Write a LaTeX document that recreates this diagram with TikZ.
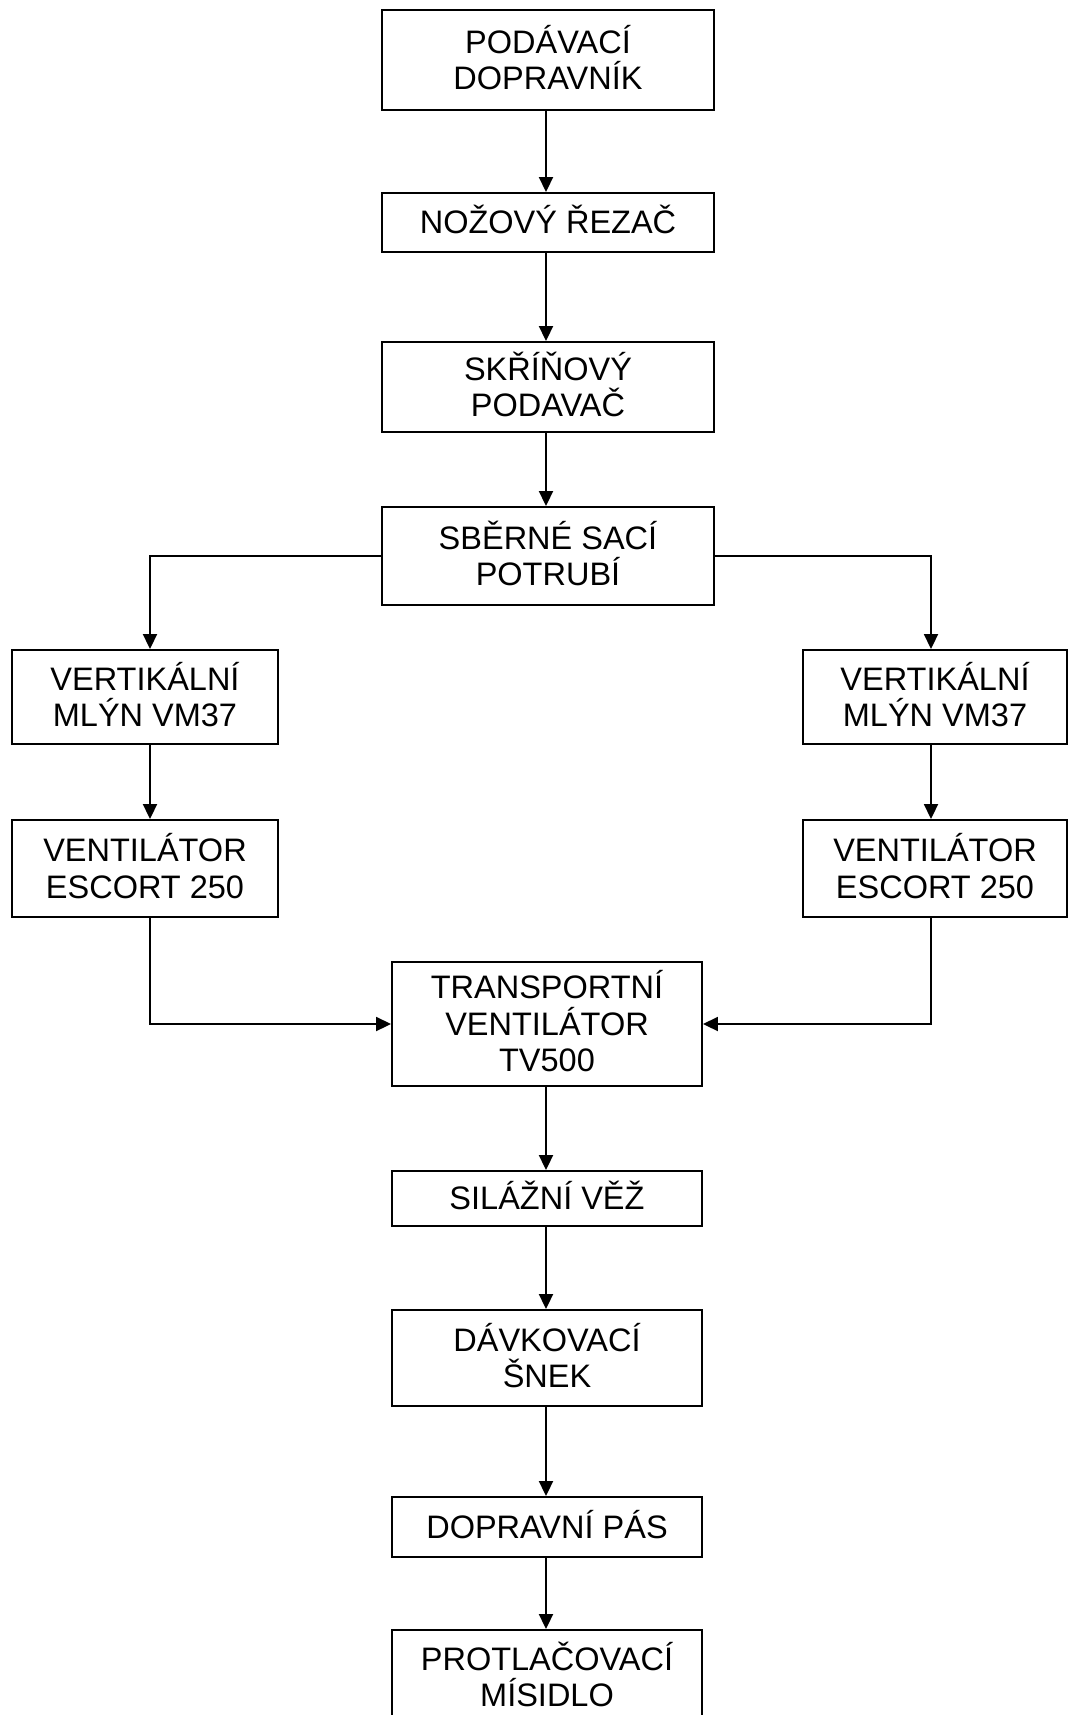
\documentclass[tikz,border=0pt]{standalone}
\usepackage{fontspec}
\setmainfont{Liberation Sans}
\usetikzlibrary{arrows.meta}
\newcommand\lnst{\rule[-0.212em]{0pt}{1.117em}}
\newcommand\boxfont{\fontsize{32.5}{36.5}\selectfont\lineskiplimit-100pt\relax}
\begin{document}
\begin{tikzpicture}[x=1pt,y=-1pt,
  box/.style={draw, line width=1.9pt, align=center, inner sep=0pt,
    font=\boxfont},
  cbox/.style={box, minimum width=332pt},
  lbox/.style={box, minimum width=266pt},
  rbox/.style={box, minimum width=264pt},
  tbox/.style={box, minimum width=310pt},
  conn/.style={line width=1.9pt, -{Triangle[length=15pt,width=14pt]}}]
\useasboundingbox (0,0) rectangle (1068,1715);
\node[cbox, minimum height=100pt] (b1) at (548,60) {\lnst PODÁVACÍ\\\lnst DOPRAVNÍK};
\node[cbox, minimum height=59pt] (b2) at (548,222.5) {\lnst NOŽOVÝ ŘEZAČ};
\node[cbox, minimum height=90pt] (b3) at (548,387) {\lnst SKŘÍŇOVÝ\\\lnst PODAVAČ};
\node[cbox, minimum height=98pt] (b4) at (548,556) {\lnst SBĚRNÉ SACÍ\\\lnst POTRUBÍ};
\node[lbox, minimum height=94pt] (l1) at (145,697) {\lnst VERTIKÁLNÍ\\\lnst MLÝN VM37};
\node[lbox, minimum height=97pt] (l2) at (145,868.5) {\lnst VENTILÁTOR\\\lnst ESCORT 250};
\node[rbox, minimum height=94pt] (r1) at (935,697) {\lnst VERTIKÁLNÍ\\\lnst MLÝN VM37};
\node[rbox, minimum height=97pt] (r2) at (935,868.5) {\lnst VENTILÁTOR\\\lnst ESCORT 250};
\node[tbox, minimum height=124pt] (t) at (547,1024) {\lnst TRANSPORTNÍ\\\lnst VENTILÁTOR\\\lnst TV500};
\node[tbox, minimum height=55pt] (s) at (547,1198.5) {\lnst SILÁŽNÍ VĚŽ};
\node[tbox, minimum height=96pt] (d) at (547,1358) {\lnst DÁVKOVACÍ\\\lnst ŠNEK};
\node[tbox, minimum height=60pt] (p) at (547,1527) {\lnst DOPRAVNÍ PÁS};
\node[tbox, minimum height=94pt] (m) at (547,1677) {\lnst PROTLAČOVACÍ\\\lnst MÍSIDLO};
\coordinate (xl) at (150,0);
\coordinate (xr) at (931,0);
\coordinate (xc) at (546,0);
\draw[conn] (xc |- b1.south) -- (xc |- b2.north);
\draw[conn] (xc |- b2.south) -- (xc |- b3.north);
\draw[conn] (xc |- b3.south) -- (xc |- b4.north);
\draw[conn] (b4.west) -| (xl |- l1.north);
\draw[conn] (b4.east) -| (xr |- r1.north);
\draw[conn] (xl |- l1.south) -- (xl |- l2.north);
\draw[conn] (xr |- r1.south) -- (xr |- r2.north);
\draw[conn] (xl |- l2.south) |- (t.west);
\draw[conn] (xr |- r2.south) |- (t.east);
\draw[conn] (xc |- t.south) -- (xc |- s.north);
\draw[conn] (xc |- s.south) -- (xc |- d.north);
\draw[conn] (xc |- d.south) -- (xc |- p.north);
\draw[conn] (xc |- p.south) -- (xc |- m.north);
\end{tikzpicture}
\end{document}
